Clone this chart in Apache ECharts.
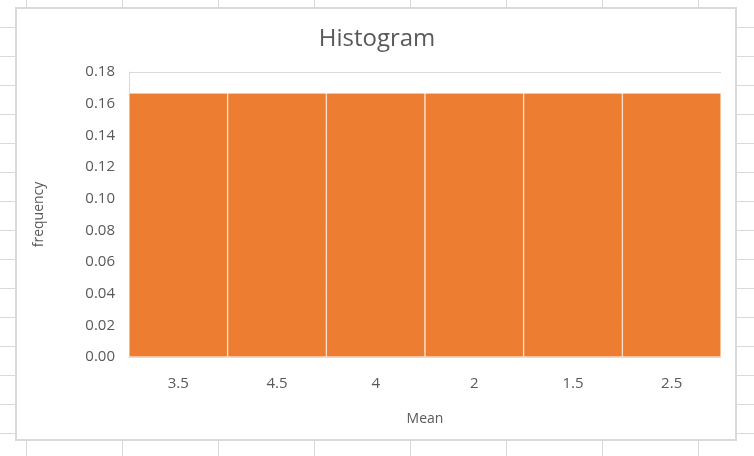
<!DOCTYPE html>
<html>
<head>
<meta charset="utf-8">
<script src="https://cdn.jsdelivr.net/npm/echarts@6/dist/echarts.min.js"></script>
<style>
  html, body {
    margin: 0;
    padding: 0;
    width: 754px;
    height: 456px;
    overflow: hidden;
    background-color: #fff;
    /* spreadsheet cells behind the chart */
    background-image:
      linear-gradient(to right, #d9d9d9 1px, transparent 1px),
      linear-gradient(to bottom, #d9d9d9 1px, transparent 1px);
    background-size: 96px 29px;
    background-position: 26px 27px;
  }
  #frame {
    position: absolute;
    left: 15px;
    top: 7px;
    width: 722px;
    height: 434px;
    box-sizing: border-box;
    background: #fff;
    border: 2px solid #d9d9d9;
  }
  #chart {
    position: absolute;
    left: 0;
    top: 0;
    width: 754px;
    height: 456px;
  }
</style>
</head>
<body>
<div id="frame"></div>
<div id="chart"></div>
<script>
const categories = ['3.5', '4.5', '4', '2', '1.5', '2.5']
const frequency = [0.1667, 0.1667, 0.1667, 0.1667, 0.1667, 0.1667]

const textColor = '#595959'
const fontFamily = 'Open Sans'

const chart = echarts.init(document.getElementById('chart'))

chart.setOption({
  backgroundColor: 'transparent',
  animation: false,
  title: {
    text: 'Histogram',
    left: 'center',
    top: 22,
    textStyle: {
      color: textColor,
      fontFamily: fontFamily,
      fontSize: 24,
      fontWeight: 'normal',
    },
  },
  grid: {
    left: 129,
    top: 72,
    right: 33,
    bottom: 99,
  },
  xAxis: {
    type: 'category',
    data: categories,
    name: 'Mean',
    nameLocation: 'middle',
    nameGap: 55,
    nameTextStyle: { color: textColor, fontFamily: fontFamily, fontSize: 14 },
    axisTick: { show: false },
    axisLine: { lineStyle: { color: '#d9d9d9' } },
    axisLabel: { color: textColor, fontFamily: fontFamily, fontSize: 15, margin: 19 },
  },
  yAxis: {
    type: 'value',
    min: 0,
    max: 0.18,
    interval: 0.02,
    name: 'frequency',
    nameLocation: 'middle',
    nameGap: 83,
    nameTextStyle: { color: textColor, fontFamily: fontFamily, fontSize: 14 },
    axisLine: { show: true, lineStyle: { color: '#d9d9d9' } },
    axisTick: { show: false },
    axisLabel: {
      color: textColor,
      fontFamily: fontFamily,
      fontSize: 15,
      margin: 14,
      formatter: (v) => v.toFixed(2),
    },
    splitLine: { lineStyle: { color: '#d9d9d9' } },
  },
  series: [
    {
      type: 'bar',
      data: frequency,
      barCategoryGap: '0%',
      itemStyle: {
        color: '#ED7D31',
        borderColor: '#ffffff',
        borderWidth: 0.5,
      },
    },
  ],
})
</script>
</body>
</html>
